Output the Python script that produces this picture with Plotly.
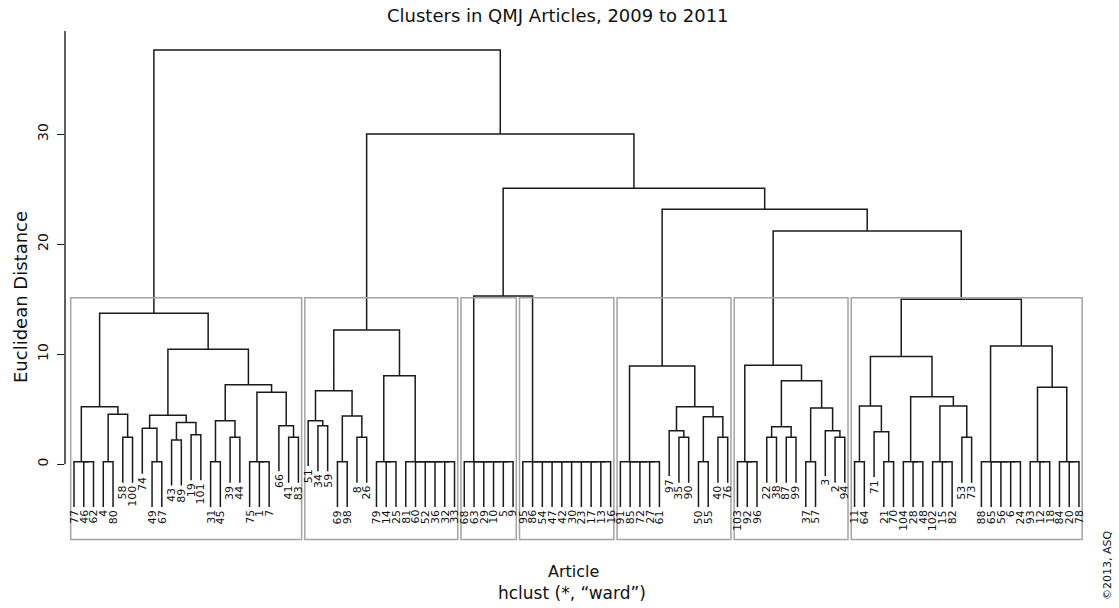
import plotly.graph_objects as go

# ---------------- data ----------------
title_text = "Clusters in QMJ Articles, 2009 to 2011"
y_label = "Euclidean Distance"
x_label = "Article"
sub_label = "hclust (*, \u201cward\u201d)"
credit = "\u00a92013, ASQ"

leaf_order = [77, 46, 62, 4, 80, 58, 100, 74, 49, 67, 43, 89, 19, 101, 31, 45, 39, 44, 75, 1, 7, 66, 41, 83,
              51, 34, 59, 69, 98, 8, 26, 79, 14, 25, 81, 60, 52, 36, 32, 33,
              68, 63, 29, 10, 5, 9,
              95, 86, 54, 47, 42, 30, 23, 17, 13, 16,
              91, 85, 72, 27, 61, 97, 35, 90, 50, 55, 40, 76,
              103, 92, 96, 22, 38, 87, 99, 37, 57, 3, 2, 94,
              11, 64, 71, 21, 70, 104, 28, 48, 102, 15, 82, 53, 73, 88, 65, 56, 6, 24, 93, 12, 18, 84, 20, 78]
cluster_sizes = [24, 16, 6, 10, 12, 12, 24]

# hclust-style merge table: negative = article (leaf), positive = earlier merge row (1-based)
merge_a = [-46, -77, -4, -58, 3, 2, -49, -74, -43, -19, 9, 8, -31, -39, 13, -1, -75, -41, -66, 17, 15, 12, 6,
           -34, -51, -69, -8, 26, 25, -14, -79, -32, -36, -52, -60, -81, 31, 29,
           -5, -10, -29, -63, -68,
           -13, -17, -23, -30, -42, -47, -54, -86, -95, 43,
           -27, -72, -85, -91, -35, -97, -50, -40, 60, 59, 57,
           -92, -103, -22, -87, 67, -37, -2, -3, 70, 69, 66,
           -11, -21, -71, 76, -28, -104, -15, -102, -53, 83, 81, 79, -6, -56, -65, -88, -12, -93, -20, -84, 93, 91, 87,
           75, 64, 53, 38, 23]
merge_b = [-62, 1, -80, -100, 4, 5, -67, 7, -89, -101, 10, 11, -45, -44, 14, -7, 16, -83, 18, 19, 20, 21, 22,
           -59, 24, -98, -26, 27, 28, -25, 30, -33, 32, 33, 34, 35, 36, 37,
           -9, 39, 40, 41, 42,
           -16, 44, 45, 46, 47, 48, 49, 50, 51, 52,
           -61, 54, 55, 56, -90, 58, -55, -76, 61, 62, 63,
           -96, 65, -38, -99, 68, -57, -94, 71, 72, 73, 74,
           -64, -70, 77, 78, -48, 80, -82, 82, -73, 84, 85, 86, -24, 88, 89, 90, -18, 92, -78, 94, 95, 96, 97,
           98, 99, 100, 101, 102]
merge_h = [0.23, 0.23, 0.23, 2.44, 4.53, 5.23, 0.23, 3.26, 2.20, 2.68, 3.78, 4.44, 0.23, 2.44, 3.96, 0.23, 0.23,
           2.44, 3.50, 6.53, 7.23, 10.44, 13.72,
           3.50, 3.96, 0.23, 2.44, 4.38, 6.68, 0.23, 0.23, 0.23, 0.23, 0.23, 0.23, 0.23, 8.05, 12.20,
           0.23, 0.23, 0.23, 0.23, 0.23,
           0.23, 0.23, 0.23, 0.23, 0.23, 0.23, 0.23, 0.23, 0.23, 15.29,
           0.23, 0.23, 0.23, 0.23, 2.44, 3.05, 0.23, 2.44, 4.32, 5.23, 8.93,
           0.23, 0.23, 2.44, 2.44, 3.41, 0.23, 2.44, 3.05, 5.11, 7.59, 8.99,
           0.23, 0.23, 2.96, 5.29, 0.23, 0.23, 0.23, 0.23, 2.44, 5.29, 6.14, 9.78, 0.23, 0.23, 0.23, 0.23,
           0.23, 0.23, 0.23, 0.23, 6.99, 10.75, 14.99,
           21.20, 23.17, 25.08, 30.02, 37.65]
y_ticks = [0, 10, 20, 30]
n_clusters = 7

# ---------------- layout geometry ----------------
W, H = 1119, 608
ML, MR, MT, MB = 65, 29, 31, 64
PX0, PY0 = 74.0, 464.2      # pixel of leaf 1 / height 0
DX, DY = 9.757, 11.0        # pixels per leaf / per height unit
HANG = 4.13

x_lo = 1 + (ML - PX0) / DX
x_hi = 1 + (W - MR - PX0) / DX
y_hi = (PY0 - MT) / DY
y_lo = (PY0 - (H - MB)) / DY
pw, ph = W - ML - MR, H - MT - MB


def paper_x(px):
    return (px - ML) / pw


def paper_y(py):
    return ((H - MB) - py) / ph


# ---------------- dendrogram segments ----------------
pos = {lab: i + 1 for i, lab in enumerate(leaf_order)}
node_x, node_h = {}, {}
leaf_end = {}
xs, ys = [], []
for k, (a, b, h) in enumerate(zip(merge_a, merge_b, merge_h), start=1):
    pts = []
    for c in (a, b):
        if c < 0:
            cx, cy = pos[-c], h - HANG
            leaf_end[-c] = cy
        else:
            cx, cy = node_x[c], node_h[c]
        pts.append((cx, cy))
    (xa, ya), (xb, yb) = pts
    xs += [xa, xa, xb, xb, None]
    ys += [ya, h, h, yb, None]
    node_x[k] = (xa + xb) / 2
    node_h[k] = h

fig = go.Figure()
fig.add_trace(go.Scatter(x=xs, y=ys, mode="lines", line=dict(color="#1a1a1a", width=1.5),
                         hoverinfo="skip", showlegend=False))

# ---------------- cluster rectangles ----------------
sorted_h = sorted(merge_h, reverse=True)
box_top = (sorted_h[n_clusters - 2] + sorted_h[n_clusters - 1]) / 2
box_bottom = (PY0 - 539.5) / DY
m = 0
shapes = []
for size in cluster_sizes:
    shapes.append(dict(type="rect", xref="x", yref="y", x0=m + 0.66, x1=m + size + 0.33,
                       y0=box_bottom, y1=box_top, line=dict(color="#a3a3a3", width=1.5),
                       fillcolor="rgba(0,0,0,0)"))
    m += size

# y axis line from 0 to top
shapes.append(dict(type="line", xref="paper", yref="paper", x0=0, x1=0,
                   y0=(0 - y_lo) / (y_hi - y_lo), y1=1, line=dict(color="#1a1a1a", width=1.4)))

# ---------------- text ----------------
FONT = "DejaVu Sans"
ann = []
for lab in leaf_order:
    ann.append(dict(x=pos[lab], y=leaf_end[lab], xref="x", yref="y", text=str(lab), showarrow=False,
                    textangle=-90, xanchor="center", yanchor="top", yshift=-2, borderpad=0,
                    font=dict(family=FONT, size=11, color="#111")))

ann.append(dict(x=paper_x(558), y=paper_y(15), xref="paper", yref="paper", text=title_text,
                showarrow=False, xanchor="center", yanchor="middle",
                font=dict(family=FONT, size=18, color="#111")))
ann.append(dict(x=paper_x(573), y=paper_y(571), xref="paper", yref="paper", text=x_label,
                showarrow=False, xanchor="center", yanchor="middle",
                font=dict(family=FONT, size=16, color="#111")))
ann.append(dict(x=paper_x(572), y=paper_y(593), xref="paper", yref="paper", text=sub_label,
                showarrow=False, xanchor="center", yanchor="middle",
                font=dict(family=FONT, size=17, color="#111")))
ann.append(dict(x=paper_x(20), y=paper_y(297), xref="paper", yref="paper", text=y_label,
                showarrow=False, xanchor="center", yanchor="middle", textangle=-90,
                font=dict(family=FONT, size=18, color="#111")))
ann.append(dict(x=paper_x(1108), y=paper_y(566), xref="paper", yref="paper", text=credit,
                showarrow=False, xanchor="center", yanchor="middle", textangle=-90,
                font=dict(family=FONT, size=11, color="#111")))

fig.update_layout(
    width=W, height=H, margin=dict(l=ML, r=MR, t=MT, b=MB),
    paper_bgcolor="white", plot_bgcolor="white", showlegend=False,
    shapes=shapes, annotations=ann,
    xaxis=dict(range=[x_lo, x_hi], visible=False, fixedrange=True),
    yaxis=dict(range=[y_lo, y_hi], tickvals=y_ticks, ticktext=[str(t) for t in y_ticks],
               ticks="outside", ticklen=7, tickwidth=1.4, tickcolor="#1a1a1a", tickangle=-90,
               showgrid=False, zeroline=False, showline=False, ticklabelstandoff=3,
               fixedrange=True, tickfont=dict(family=FONT, size=14, color="#111")),
)

# remove the default 8px page margin so the figure fills the window exactly
fig.write_html("out.html", config={"displayModeBar": False, "staticPlot": True},
               post_script="document.body.style.margin='0px';")
